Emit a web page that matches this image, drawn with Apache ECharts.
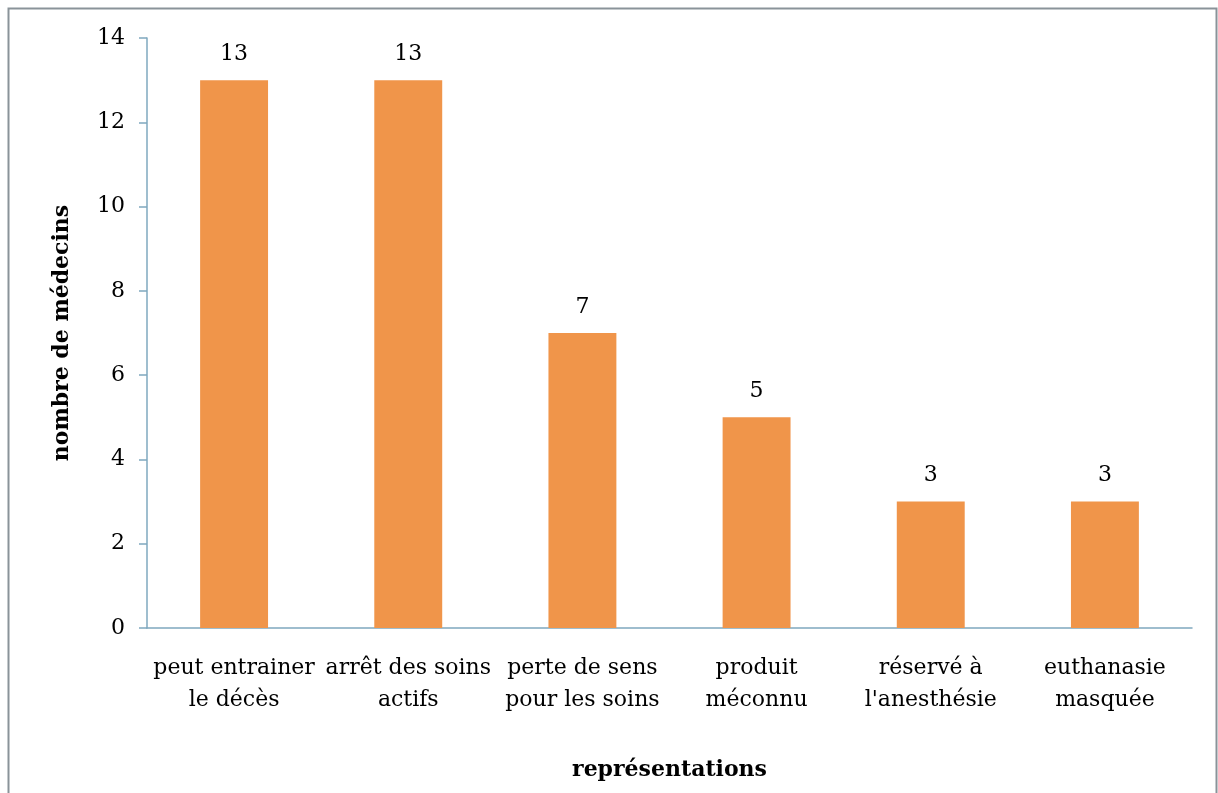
<!DOCTYPE html>
<html><head><meta charset="utf-8">
<script src="https://cdn.jsdelivr.net/npm/echarts@6/dist/echarts.min.js"></script>
<style>html,body{margin:0;padding:0;background:#fff}#c{width:1218px;height:793px}</style>
</head><body><div id="c"></div>
<script>
const categories = ["peut entrainer\nle décès", "arrêt des soins\nactifs", "perte de sens\npour les soins", "produit\nméconnu", "réservé à\nl'anesthésie", "euthanasie\nmasquée"];
const values = [13, 13, 7, 5, 3, 3];
const yTicks = [0, 2, 4, 6, 8, 10, 12, 14];

const FONT = '"DejaVu Serif", "Liberation Serif", serif';
const axisColor = '#7fa8bf';
const chart = echarts.init(document.getElementById('c'));
chart.setOption({
  animation: false,
  backgroundColor: '#fff',
  graphic: [{
    type: 'rect', shape: {x: 8.5, y: 8.5, width: 1208, height: 800},
    style: {fill: 'none', stroke: '#8a9399', lineWidth: 2}, silent: true
  }],
  grid: {left: 147, right: 26, top: 38, bottom: 165, containLabel: false},
  xAxis: {
    type: 'category', data: categories,
    name: 'représentations', nameLocation: 'middle', nameGap: 131,
    nameTextStyle: {fontFamily: FONT, fontWeight: 'bold', fontSize: 22, color: '#000'},
    axisLine: {lineStyle: {color: axisColor, width: 1.5}},
    axisTick: {show: false},
    axisLabel: {interval: 0, fontFamily: FONT, fontSize: 22, color: '#000', lineHeight: 32, margin: 24}
  },
  yAxis: {
    type: 'value', min: yTicks[0], max: yTicks[yTicks.length - 1], interval: 2,
    name: 'nombre de médecins', nameLocation: 'middle', nameGap: 74, nameRotate: 90,
    nameTextStyle: {fontFamily: FONT, fontWeight: 'bold', fontSize: 22, color: '#000'},
    axisLine: {show: true, lineStyle: {color: axisColor, width: 1.5}},
    axisTick: {show: true, length: 8, lineStyle: {color: axisColor, width: 1.5}},
    splitLine: {show: false},
    axisLabel: {fontFamily: FONT, fontSize: 22, color: '#000', margin: 22}
  },
  series: [{
    type: 'bar', data: values, barWidth: '39%',
    itemStyle: {color: '#F0954A'},
    label: {show: true, position: 'top', distance: 15, fontFamily: FONT, fontSize: 22, color: '#000'}
  }]
});
</script></body></html>
